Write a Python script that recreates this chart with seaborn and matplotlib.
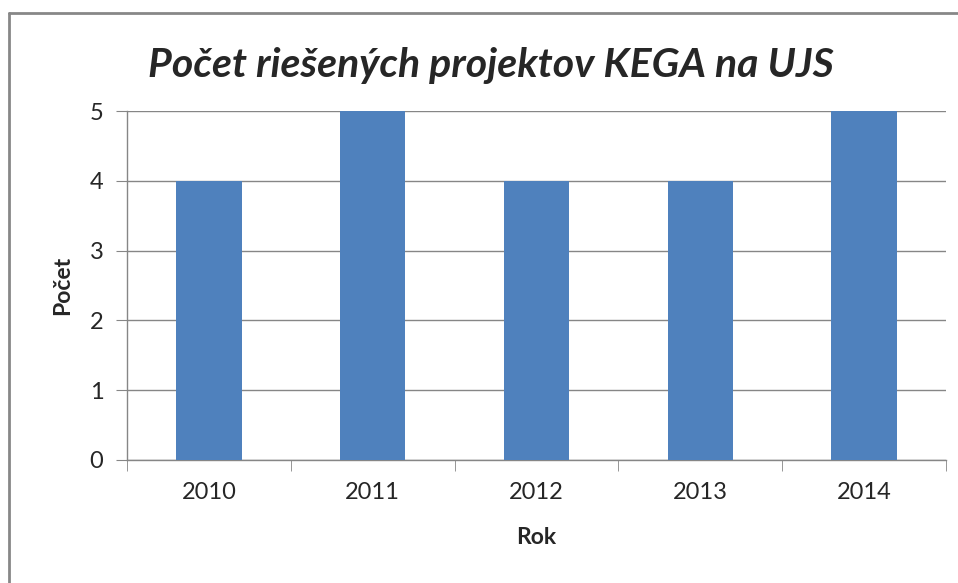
import numpy as np
import pandas as pd
import matplotlib
matplotlib.use("Agg")
import matplotlib.pyplot as plt
import seaborn as sns
from matplotlib.lines import Line2D

# data
roky = ["2010", "2011", "2012", "2013", "2014"]
pocet = [4, 5, 4, 4, 5]

df = pd.DataFrame({"Rok": roky, "Počet": pocet})

sns.set_style("white")
plt.rcParams['font.family'] = ['Lato', 'DejaVu Sans']

fig = plt.figure(figsize=(9.58, 5.83), dpi=100)
ax = fig.add_axes([127 / 958, 1 - 460 / 583, (946 - 127) / 958, (460 - 111) / 583])

sns.barplot(data=df, x="Rok", y="Počet", color="#4F81BD", saturation=1,
            width=0.4, ax=ax, zorder=3, linewidth=0)

grid_col = "#868686"
ax.set_ylim(0, 5)
ax.set_xlim(-0.5, len(roky) - 0.5)
ax.set_yticks(range(0, 6))
ax.yaxis.grid(True, color=grid_col, linewidth=1)
ax.set_axisbelow(True)

for s in ["top", "right"]:
    ax.spines[s].set_visible(False)
for s in ["left", "bottom"]:
    ax.spines[s].set_color(grid_col)
    ax.spines[s].set_linewidth(1)

ax.tick_params(axis="y", length=8, color=grid_col, labelsize=17, pad=9, left=True)
ax.tick_params(axis="x", length=0, labelsize=17, pad=16)
ax.set_xticks(np.arange(-0.5, len(roky)), minor=True)
ax.tick_params(axis="x", which="minor", length=8, color=grid_col, bottom=True)

ax.set_xlabel("Rok", fontsize=16.5, fontweight="bold", labelpad=17)
ax.set_ylabel("Počet", fontsize=16.5, fontweight="bold", labelpad=12)

fig.text(0.512, 1 - 66 / 583, "Počet riešených projektov KEGA na UJS",
         ha="center", va="center", fontsize=29.5, fontweight="bold", style="italic")

# chart border like in the original screenshot
fig.add_artist(Line2D([9 / 958, 9 / 958], [0, 1 - 13 / 583], color="#878787", lw=2))
fig.add_artist(Line2D([9 / 958, 1], [1 - 13 / 583, 1 - 13 / 583], color="#878787", lw=2))

fig.savefig("out.png", dpi=100)
